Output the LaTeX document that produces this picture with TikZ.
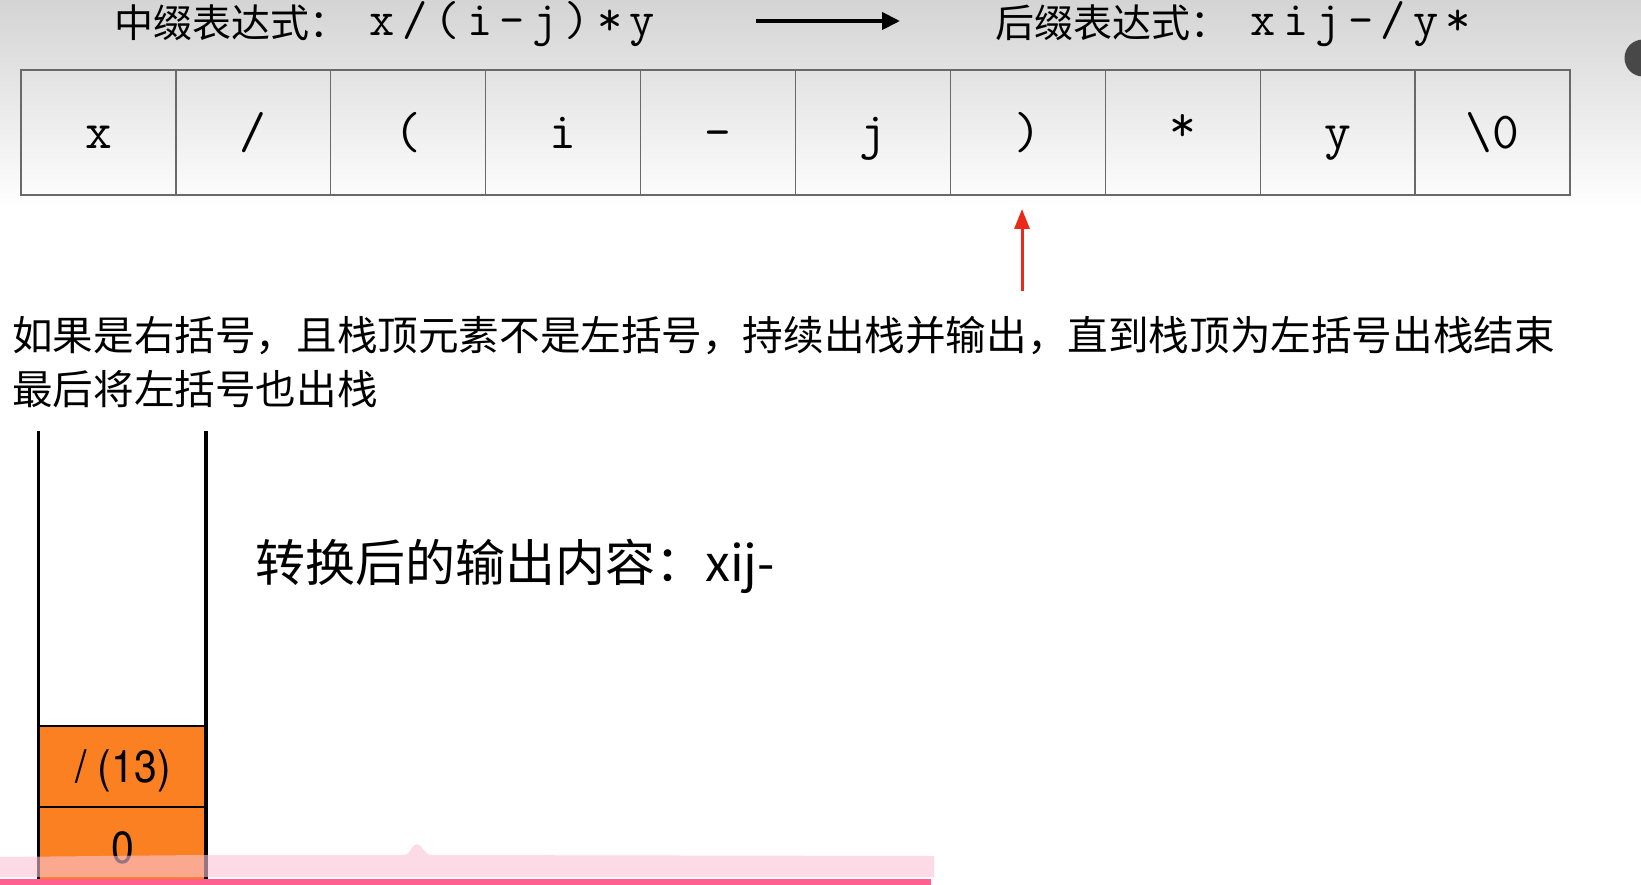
\documentclass[tikz,border=0pt]{standalone}
\usepackage{fontspec}
\usetikzlibrary{arrows.meta}
\newfontfamily\cjkfont{Noto Sans CJK SC}
\newfontfamily\helvfont{TeX Gyre Heros}[FakeStretch=0.91]
\newcommand\spreadmono[1]{\spreadloop#1\relax}
\def\spreadloop#1{\ifx\relax#1\else\makebox[32.5pt][c]{#1}\expandafter\spreadloop\fi}
\definecolor{stackorange}{RGB}{250,128,34}
\definecolor{cellgray}{RGB}{105,105,105}
\definecolor{redarr}{RGB}{235,40,25}
\definecolor{bgtop}{RGB}{212,212,212}
\definecolor{pinkbar}{RGB}{255,96,144}
\definecolor{pinkband}{RGB}{250,196,214}
\definecolor{uidark}{RGB}{72,72,72}
\begin{document}
\begin{tikzpicture}[x=1pt,y=-1pt,
  cell/.style={draw=cellgray, line width=1.3pt, minimum width=154.9pt,
    minimum height=125pt, inner sep=0pt, text height=42pt, text depth=9pt,
    font=\ttfamily\fontsize{52}{52}\selectfont},
  titlecjk/.style={anchor=west, inner sep=0pt, font=\cjkfont\fontsize{39}{39}\selectfont},
  titlecode/.style={anchor=base west, inner sep=0pt,
    font=\ttfamily\fontsize{49}{49}\selectfont},
  bodytext/.style={anchor=west, inner sep=0pt, font=\cjkfont\fontsize{40.6}{40.6}\selectfont},
  outtext/.style={anchor=west, inner sep=0pt, font=\cjkfont\fontsize{50}{50}\selectfont},
  stacklabel/.style={inner sep=0pt, font=\helvfont\fontsize{45}{45}\selectfont},
  stackcell/.style={fill=stackorange, draw=black, line width=2.5pt},
  stackwall/.style={draw=black, line width=3.5pt},
  blackarrow/.style={draw=black, line width=4pt, -{Triangle[width=17pt,length=18pt]}},
  redarrow/.style={draw=redarr, line width=3pt, -{Triangle[width=15pt,length=20pt]}}
]
\useasboundingbox (0,0) rectangle (1641,885);
\fill[white] (0,0) rectangle (1641,885);
\shade[top color=bgtop, bottom color=white] (0,0) rectangle (1641,210);

% titles
\node[titlecjk] (lt) at (114,23) {中缀表达式：};
\node[titlecode] (ltc) at (366,36) {\spreadmono{x/(i-j)*y}};
\coordinate (ba1) at (756,21);
\coordinate (ba2) at (900,21);
\draw[blackarrow] (ba1) -- (ba2);
\node[titlecjk] (rt) at (995,23) {后缀表达式：};
\node[titlecode] (rtc) at (1247,36) {\spreadmono{xij-/y*}};

% array cells
\node[cell] (c0) at (98.45,132.5) {x};
\node[cell] (c1) at (253.35,132.5) {/};
\node[cell] (c2) at (408.25,132.5) {(};
\node[cell] (c3) at (563.15,132.5) {i};
\node[cell] (c4) at (718.05,132.5) {-};
\node[cell] (c5) at (872.95,132.5) {j};
\node[cell] (c6) at (1027.85,132.5) {)};
\node[cell] (c7) at (1182.75,132.5) {\raisebox{7pt}{*}};
\node[cell] (c8) at (1337.65,132.5) {y};
\node[cell] (c9) at (1492.55,132.5) {\textbackslash 0};

% red pointer
\coordinate (rtail) at (1022,291);
\coordinate (rtip) at (1022,209);
\draw[redarrow] (rtail) -- (rtip);

% explanation
\node[bodytext] (l1) at (12,336) {如果是右括号，且栈顶元素不是左括号，持续出栈并输出，直到栈顶为左括号出栈结束};
\node[bodytext] (l2) at (12,389) {最后将左括号也出栈};

% output
\node[outtext] (out) at (255,566) {转换后的输出内容：xij-};

% stack
\draw[stackcell] (38.7,726) rectangle (206,807);
\draw[stackcell] (38.7,807) rectangle (206,895);
\node[stacklabel] (s1) at (123,771) {/ (13)};
\node[stacklabel] (s0) at (123,848) {0};
\draw[stackwall] (38.7,431) -- (38.7,890);
\draw[stackwall] (206,431) -- (206,890);

% video overlay
\fill[pinkband, opacity=0.6] (0,857) -- (200,855) -- (405,855)
  .. controls (410,855) and (412,844) .. (417,844)
  .. controls (422,844) and (424,855) .. (432,855) -- (934,856) -- (934,877) -- (0,877) -- cycle;
\fill[pinkbar] (0,879) rectangle (931,885);
\fill[uidark] (1643,58) circle (18.5);
\end{tikzpicture}
\end{document}
